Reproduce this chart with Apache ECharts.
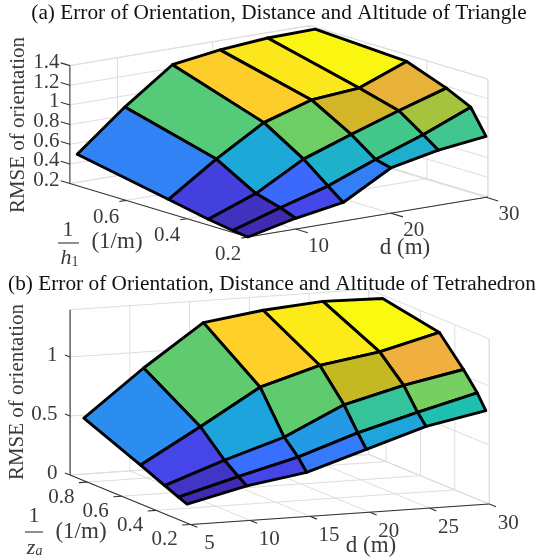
<!DOCTYPE html>
<html><head><meta charset="utf-8">
<style>html,body{margin:0;padding:0;background:#fff}#c{width:538px;height:560px}</style>
<script src="https://cdn.jsdelivr.net/npm/echarts@6/dist/echarts.min.js"></script>
</head><body><div id="c"></div>
<script>
const dValues = [5, 10, 15, 20, 25, 30];

const hValuesA = [0.2, 0.25, 0.33, 0.46, 0.76];
const rmseA = [
  [0.20, 0.31, 0.39, 0.66, 0.76, 0.82],
  [0.22, 0.37, 0.51, 0.70, 0.87, 1.07],
  [0.26, 0.44, 0.71, 0.88, 1.04, 1.19],
  [0.34, 0.67, 0.96, 1.11, 1.15, 1.34],
  [0.52, 0.92, 1.27, 1.34, 1.38, 1.39]
];
const dTicksA = [10, 20, 30];
const hTicksA = [0.2, 0.4, 0.6];
const zTicksA = [0.2, 0.4, 0.6, 0.8, 1, 1.2, 1.4];

const hValuesB = [0.22, 0.27, 0.35, 0.49, 0.82];
const rmseB = [
  [0.16, 0.28, 0.36, 0.52, 0.68, 0.78],
  [0.19, 0.33, 0.46, 0.63, 0.77, 0.90],
  [0.24, 0.42, 0.58, 0.82, 0.95, 1.05],
  [0.33, 0.62, 0.92, 1.07, 1.15, 1.28],
  [0.53, 0.92, 1.27, 1.34, 1.38, 1.37]
];
const dTicksB = [5, 10, 15, 20, 25, 30];
const hTicksB = [0.2, 0.4, 0.6, 0.8];
const zTicksB = [0, 0.5, 1];

const colorStops = [
  [0, 62, 38, 168], [0.14, 69, 69, 232], [0.21, 58, 110, 255], [0.30, 43, 140, 240],
  [0.38, 30, 165, 220], [0.5, 32, 192, 176], [0.62, 93, 203, 112], [0.65, 120, 208, 96],
  [0.75, 200, 184, 32], [0.81, 240, 176, 64], [0.91, 255, 208, 42], [1, 250, 250, 15]
];

const FONT = '"Liberation Serif", "Times New Roman", serif';
const panels = [
  { name: 'Triangle', hs: hValuesA, z: rmseA, dTicks: dTicksA, hTicks: hTicksA, zTicks: zTicksA,
    ox: 248, oy: 237, dx: 9.52, dy: 1.587, hx: 305, hy: 91.5, zy: 98.3,
    dMin: 5, dMax: 30.2, hMin: 0.2, hMax: 0.784, zMin: 0.2, zMax: 1.4,
    dLab: [23, 17], hLab: [-20, 17], zLabX: 59.5, zLabDy: -3,
    ylabel: [18, 125], dName: [405, 248], frac: { one: [68, 230], bar: [58, 79, 243], sym: 'h', symAt: [66, 258], sub: '1', sub_at: [75, 262], unit: [117, 242] } },
  { name: 'Tetrahedron', hs: hValuesB, z: rmseB, dTicks: dTicksB, hTicks: hTicksB, zTicks: zTicksB,
    ox: 190.5, oy: 524.5, dx: 11.95, dy: 0.82, hx: 172, hy: 70.7, zy: 118,
    dMin: 5, dMax: 30, hMin: 0.2, hMax: 0.9, zMin: 0, zMax: 1.4,
    dLab: [19, 19], hLab: [-26, 15], zLabX: 57.5, zLabDy: -2,
    ylabel: [17, 392], dName: [371, 546], frac: { one: [34, 516], bar: [25, 43, 532], sym: 'z', symAt: [31, 548], sub: 'a', sub_at: [39, 551], unit: [81, 532] } }
];

function proj(p, d, h, z) {
  return [p.ox + (d - p.dMin) * p.dx - (h - p.hMin) * p.hx,
          p.oy - (d - p.dMin) * p.dy - (h - p.hMin) * p.hy - (z - p.zMin) * p.zy];
}
function faceColor(t) {
  t = Math.max(0, Math.min(1, t));
  for (let k = 1; k < colorStops.length; k++) {
    const a = colorStops[k - 1], b = colorStops[k];
    if (t <= b[0]) {
      const f = (t - a[0]) / (b[0] - a[0]);
      return 'rgb(' + [1, 2, 3].map(n => Math.round(a[n] + (b[n] - a[n]) * f)).join(',') + ')';
    }
  }
  return 'rgb(250,250,15)';
}

// grid and axis line segments of each panel
function segments(p) {
  const grid = [], axis = [];
  const add = (list, a, b) => list.push([a[0], a[1], b[0], b[1]]);
  const P = (d, h, z) => proj(p, d, h, z);
  p.hTicks.forEach(h => {
    add(grid, P(p.dMin, h, p.zMin), P(p.dMax, h, p.zMin));
    add(grid, P(p.dMax, h, p.zMin), P(p.dMax, h, p.zMax));
    add(axis, P(p.dMin, h, p.zMin), P(p.dMin - 0.7, h, p.zMin));
  });
  p.dTicks.forEach(d => {
    add(grid, P(d, p.hMin, p.zMin), P(d, p.hMax, p.zMin));
    add(grid, P(d, p.hMax, p.zMin), P(d, p.hMax, p.zMax));
    add(axis, P(d, p.hMin, p.zMin), P(d, p.hMin - 0.04, p.zMin));
  });
  p.zTicks.forEach(z => {
    add(grid, P(p.dMin, p.hMax, z), P(p.dMax, p.hMax, z));
    add(grid, P(p.dMax, p.hMax, z), P(p.dMax, p.hMin, z));
    add(axis, P(p.dMin, p.hMax, z), P(p.dMin, p.hMax + 0.03, z));
  });
  add(grid, P(p.dMin, p.hMax, p.zMax), P(p.dMax, p.hMax, p.zMax));
  add(grid, P(p.dMax, p.hMax, p.zMax), P(p.dMax, p.hMin, p.zMax));
  add(grid, P(p.dMax, p.hMax, p.zMin), P(p.dMax, p.hMax, p.zMax));
  add(grid, P(p.dMax, p.hMin, p.zMin), P(p.dMax, p.hMin, p.zMax));
  add(grid, P(p.dMax, p.hMax, p.zMin), P(p.dMax, p.hMin, p.zMin));
  add(grid, P(p.dMax, p.hMax, p.zMin), P(p.dMin, p.hMax, p.zMin));
  add(axis, P(p.dMin, p.hMin, p.zMin), P(p.dMax, p.hMin, p.zMin));
  add(axis, P(p.dMin, p.hMin, p.zMin), P(p.dMin, p.hMax, p.zMin));
  add(axis, P(p.dMin, p.hMax, p.zMin), P(p.dMin, p.hMax, p.zMax));
  return { grid, axis };
}

// text items of each panel
function panelTexts(p) {
  const out = [];
  const T = (x, y, text, o) => out.push(Object.assign({ x, y, text, size: 21, color: '#3a3a3a', align: 'center', rot: 0, style: 'normal' }, o || {}));
  p.dTicks.forEach(d => { const a = proj(p, d, p.hMin, p.zMin); T(a[0] + p.dLab[0], a[1] + p.dLab[1], String(d)); });
  p.hTicks.forEach(h => { const a = proj(p, p.dMin, h, p.zMin); T(a[0] + p.hLab[0], a[1] + p.hLab[1], h.toFixed(1)); });
  p.zTicks.forEach(z => { const a = proj(p, p.dMin, p.hMax, z); T(p.zLabX, a[1] + p.zLabDy, String(z), { align: 'right' }); });
  T(p.ylabel[0], p.ylabel[1], 'RMSE of orientation', { rot: Math.PI / 2, size: 21 });
  T(p.dName[0], p.dName[1], 'd (m)', { size: 23 });
  const f = p.frac;
  T(f.one[0], f.one[1], '1', { size: 22 });
  T(f.symAt[0], f.symAt[1], f.sym, { style: 'italic', size: 22 });
  T(f.sub_at[0], f.sub_at[1], f.sub, { size: 14, style: f.sub === 'a' ? 'italic' : 'normal' });
  T(f.unit[0], f.unit[1], '(1/m)', { size: 23 });
  return out;
}

const series = [];
panels.forEach(p => {
  const seg = segments(p);
  const fracBar = [[p.frac.bar[0], p.frac.bar[2], p.frac.bar[1], p.frac.bar[2]]];
  const lineSeries = (name, data, color, w) => ({
    type: 'custom', name, coordinateSystem: 'cartesian2d', silent: true, clip: false,
    data: data.map(s => [s[0], s[1], s[2], s[3]]),
    renderItem: (params, api) => {
      const a = api.coord([api.value(0), api.value(1)]), b = api.coord([api.value(2), api.value(3)]);
      return { type: 'line', shape: { x1: a[0], y1: a[1], x2: b[0], y2: b[1] }, style: { stroke: color, lineWidth: w, fill: null } };
    }
  });
  series.push(lineSeries(p.name + ' grid', seg.grid, '#dedede', 1));
  series.push(lineSeries(p.name + ' axes', seg.axis.concat(fracBar), '#333333', 1.1));

  const zAll = p.z.flat(), zLo = Math.min(...zAll), zHi = Math.max(...zAll);
  const faces = [];
  for (let i = p.hs.length - 2; i >= 0; i--) for (let j = dValues.length - 2; j >= 0; j--) faces.push([j, i]);
  series.push({
    type: 'custom', name: p.name + ' surface', coordinateSystem: 'cartesian2d', silent: true, clip: false,
    data: faces,
    renderItem: (params, api) => {
      const j = api.value(0), i = api.value(1);
      const corners = [[j, i], [j + 1, i], [j + 1, i + 1], [j, i + 1]];
      const pts = corners.map(c => api.coord(proj(p, dValues[c[0]], p.hs[c[1]], p.z[c[1]][c[0]])));
      return { type: 'polygon', shape: { points: pts },
        style: { fill: faceColor((p.z[i + 1][j] - zLo) / (zHi - zLo)), stroke: '#000', lineWidth: 2.9, lineJoin: 'round' } };
    }
  });

  const texts = panelTexts(p);
  series.push({
    type: 'custom', name: p.name + ' labels', coordinateSystem: 'cartesian2d', silent: true, clip: false,
    data: texts.map(t => [t.x, t.y]),
    renderItem: (params, api) => {
      const t = texts[params.dataIndex];
      const c = api.coord([api.value(0), api.value(1)]);
      return { type: 'text', x: c[0], y: c[1], rotation: t.rot,
        style: { text: t.text, fontFamily: FONT, fontSize: t.size, fontStyle: t.style, fill: t.color, align: t.align, verticalAlign: 'middle' } };
    }
  });
});

const chart = echarts.init(document.getElementById('c'), null, { renderer: 'canvas' });
chart.setOption({
  animation: false,
  backgroundColor: '#fff',
  title: [
    { text: '(a) Error of Orientation, Distance and Altitude of Triangle', left: 279, top: 13, padding: 0, textAlign: 'center', textVerticalAlign: 'middle',
      textStyle: { fontFamily: FONT, fontSize: 21.3, fontWeight: 'normal', color: '#111' } },
    { text: '(b) Error of Orientation, Distance and Altitude of Tetrahedron', left: 272, top: 284, padding: 0, textAlign: 'center', textVerticalAlign: 'middle',
      textStyle: { fontFamily: FONT, fontSize: 21.3, fontWeight: 'normal', color: '#111' } }
  ],
  grid: { left: 0, top: 0, width: 538, height: 560, containLabel: false },
  xAxis: { type: 'value', min: 0, max: 538, show: false },
  yAxis: { type: 'value', min: 0, max: 560, inverse: true, show: false },
  tooltip: { show: false },
  series
});
</script></body></html>
